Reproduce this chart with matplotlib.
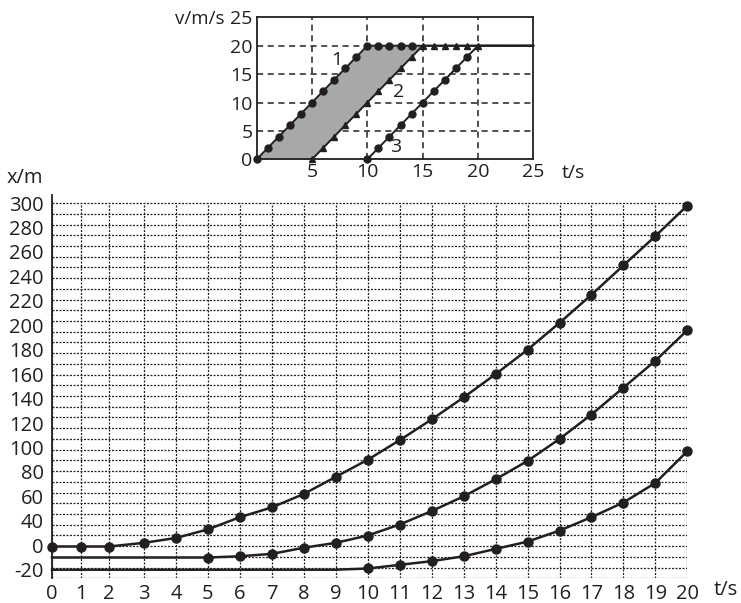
import matplotlib.pyplot as plt
import numpy as np

plt.rcParams['font.family'] = ['Open Sans', 'DejaVu Sans']

# gornji graf: v(t)
t1 = [0, 1, 2, 3, 4, 5, 6, 7, 8, 9, 10, 11, 12, 13, 14, 25]
v1 = [0, 2, 4, 6, 8, 10, 12, 14, 16, 18, 20, 20, 20, 20, 20, 20]
t2 = [5, 6, 7, 8, 9, 10, 11, 12, 13, 14, 15, 16, 17, 18, 19, 20, 25]
v2 = [0, 2, 4, 6, 8, 10, 12, 14, 16, 18, 20, 20, 20, 20, 20, 20, 20]
t3 = [10, 11, 12, 13, 14, 15, 16, 17, 18, 19, 20, 25]
v3 = [0, 2, 4, 6, 8, 10, 12, 14, 16, 18, 20, 20]

# donji graf: x(t), procitano sa slike (u jedinicama skale)
t = list(range(21))
x1 = [19, 19, 19, 22, 26, 33, 43, 51, 62, 76, 90, 106, 123, 141, 160, 180,
      202, 225, 249, 273, 298]
x2 = [10, 10, 10, 10, 10, 10, 11, 13, 18, 22, 28, 37, 48, 60, 74, 89,
      107, 127, 149, 171, 196]
x3 = [0, 0, 0, 0, 0, 0, 0, 0, 0, 0, 1, 4, 7, 11, 17, 23, 32, 43, 55, 71, 97]

y_ticks = [300, 280, 260, 240, 220, 200, 180, 160, 140, 120, 100, 80, 60, 40, 20, 0]
y_labels = ["300", "280", "260", "240", "220", "200", "180", "160", "140",
            "120", "100", "80", "60", "40", "0", "-20"]

# nejednoliki razmak na pocetku x osi (kao na crtezu)
t_knots = [0, 1, 2, 3, 20]
px_knots = [52, 80.5, 109, 144, 687.3]

def fwd(a):
    return np.interp(a, t_knots, px_knots)

def inv(a):
    return np.interp(a, px_knots, t_knots)

fig = plt.figure(figsize=(7.41, 6.03), dpi=100)

# ---- gornji ----
ax1 = fig.add_axes([0.3464, 0.7358, 0.3733, 0.2355])
ax1.set_xlim(0, 25)
ax1.set_ylim(0, 25)
for g in [5, 10, 15, 20]:
    ax1.axvline(g, color='#222222', lw=1.1, dashes=(4, 3), zorder=1)
    ax1.axhline(g, color='#222222', lw=1.1, dashes=(4, 3), zorder=1)
ax1.fill_betweenx([v1[0], v1[10]], [t1[0], t1[10]], [t2[0], t2[10]],
                  color='#a7a8aa', zorder=2, lw=0)
ax1.plot(t1, v1, color='#231f20', lw=1.4, marker='o', ms=5,
         markevery=list(range(15)), zorder=3, clip_on=False)
ax1.plot(t2, v2, color='#231f20', lw=1.4, marker='^', ms=5,
         markevery=list(range(16)), zorder=3, clip_on=False)
ax1.plot(t3, v3, color='#231f20', lw=1.4, marker='o', ms=5,
         markevery=list(range(10)), zorder=3, clip_on=False)
ax1.text(7.2, 17.5, "1", fontsize=14, ha='center', va='center', color='#231f20')
ax1.text(12.8, 11.9, "2", fontsize=14, ha='center', va='center', color='#231f20')
ax1.text(12.6, 2.2, "3", fontsize=14, ha='center', va='center', color='#231f20')
ax1.set_xticks([5, 10, 15, 20, 25])
ax1.set_yticks([0, 5, 10, 15, 20, 25])
ax1.tick_params(length=0, labelsize=14, colors='#231f20', pad=3)
for s in ax1.spines.values():
    s.set_linewidth(1.3)
    s.set_color('#231f20')
fig.text(225 / 741, 1 - 19 / 603, "v/m/s", fontsize=13.5, ha='right', va='center', color='#231f20')
fig.text(573 / 741, 1 - 173 / 603, "t/s", fontsize=14, ha='center', va='center', color='#231f20')

# ---- donji ----
ax2 = fig.add_axes([0.0702, 0.0410, 0.8574, 0.6356])
ax2.set_xscale('function', functions=(fwd, inv))
ax2.set_xlim(0, 20)
ax2.set_ylim(-7, 306.6)
tocke = (0, (1.6, 1.2))
ax2.hlines(np.linspace(-7, 300, 36), 0, 20, color='#231f20', lw=0.9,
           linestyle=tocke, zorder=1)
ax2.vlines(t, -7, 300, color='#231f20', lw=0.9, linestyle=tocke, zorder=1)

ax2.plot(t, x1, color='#231f20', lw=1.8, marker='o', ms=6.5, zorder=3, clip_on=False)
ax2.plot(t, x2, color='#231f20', lw=1.8, marker='o', ms=6.5,
         markevery=list(range(5, 21)), zorder=3, clip_on=False)
ax2.plot(t, x3, color='#231f20', lw=1.8, marker='o', ms=6.5,
         markevery=list(range(10, 21)), zorder=3, clip_on=False)

ax2.set_xticks(t)
ax2.set_xticklabels([str(i) for i in t])
ax2.set_yticks(y_ticks)
ax2.set_yticklabels(y_labels)
ax2.tick_params(length=0, labelsize=14.5, colors='#231f20')
ax2.tick_params(axis='x', pad=4)
ax2.tick_params(axis='y', pad=6)
for k in ['top', 'right', 'bottom']:
    ax2.spines[k].set_visible(False)
ax2.spines['left'].set_linewidth(1.3)
ax2.spines['left'].set_color('#231f20')
fig.text(25 / 741, 1 - 178 / 603, "x/m", fontsize=14.5, ha='center', va='center', color='#231f20')
fig.text(726 / 741, 1 - 590 / 603, "t/s", fontsize=14.5, ha='center', va='center', color='#231f20')

fig.savefig("out.png", dpi=100)
